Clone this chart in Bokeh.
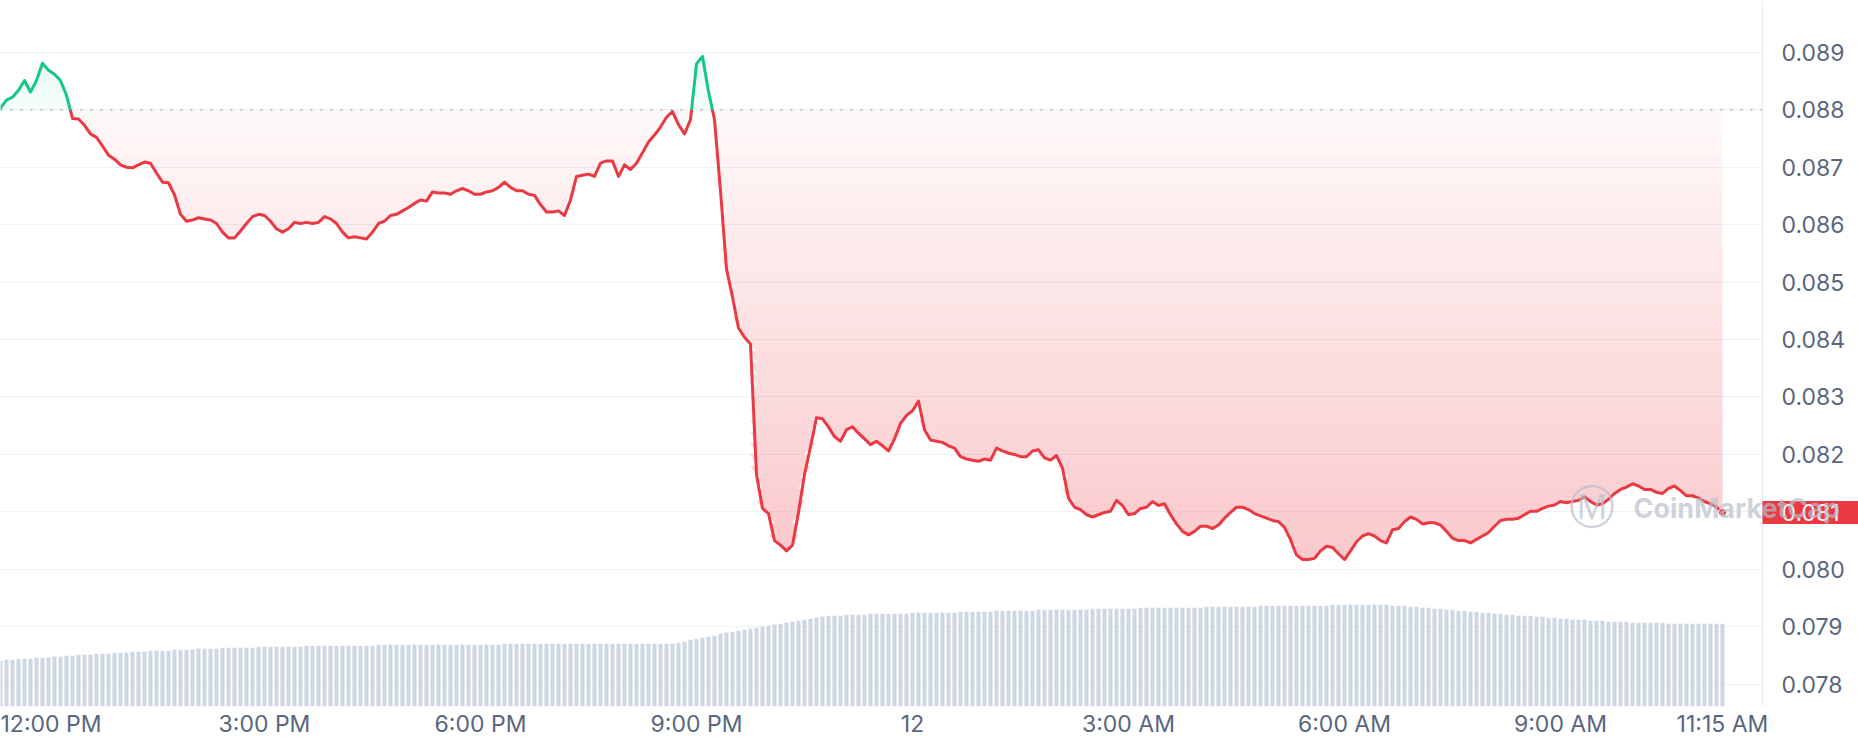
import numpy as np
from bokeh.plotting import figure
from bokeh.models import Range1d, FixedTicker, PrintfTickFormatter, Span, Label, BoxAnnotation
from bokeh.embed import file_html
from bokeh.resources import INLINE

# ---- data -------------------------------------------------------------
# 5-minute samples, minutes after 11:15 AM
minutes = list(range(0, 1445, 5))

prices = [
    0.08800, 0.08803, 0.08817, 0.08822, 0.08834, 0.08851, 0.08831, 0.08851, 0.08881, 0.08869, 0.08862, 0.08851,
    0.08825, 0.08785, 0.08784, 0.08773, 0.08758, 0.08752, 0.08737, 0.08721, 0.08714, 0.08704, 0.08700, 0.08699,
    0.08704, 0.08709, 0.08707, 0.08690, 0.08674, 0.08673, 0.08652, 0.08618, 0.08606, 0.08608, 0.08612, 0.08610,
    0.08608, 0.08602, 0.08587, 0.08577, 0.08577, 0.08589, 0.08602, 0.08614, 0.08618, 0.08616, 0.08606, 0.08593,
    0.08587, 0.08593, 0.08604, 0.08602, 0.08604, 0.08602, 0.08604, 0.08614, 0.08610, 0.08602, 0.08587, 0.08577,
    0.08579, 0.08577, 0.08575, 0.08587, 0.08602, 0.08606, 0.08616, 0.08618, 0.08624, 0.08630, 0.08637, 0.08643,
    0.08641, 0.08657, 0.08655, 0.08655, 0.08653, 0.08659, 0.08663, 0.08659, 0.08653, 0.08653, 0.08657, 0.08659,
    0.08665, 0.08674, 0.08665, 0.08659, 0.08659, 0.08653, 0.08651, 0.08635, 0.08622, 0.08622, 0.08624, 0.08616,
    0.08643, 0.08684, 0.08686, 0.08688, 0.08684, 0.08707, 0.08711, 0.08711, 0.08684, 0.08704, 0.08696, 0.08707,
    0.08725, 0.08744, 0.08756, 0.08770, 0.08787, 0.08797, 0.08774, 0.08758, 0.08783, 0.08880, 0.08893, 0.08832,
    0.08783, 0.08659, 0.08523, 0.08474, 0.08420, 0.08404, 0.08392, 0.08165, 0.08106, 0.08097, 0.08050, 0.08042,
    0.08032, 0.08042, 0.08099, 0.08165, 0.08213, 0.08264, 0.08262, 0.08248, 0.08231, 0.08223, 0.08243, 0.08248,
    0.08237, 0.08227, 0.08217, 0.08223, 0.08215, 0.08206, 0.08227, 0.08254, 0.08268, 0.08276, 0.08293, 0.08243,
    0.08225, 0.08223, 0.08221, 0.08215, 0.08211, 0.08196, 0.08192, 0.08190, 0.08188, 0.08192, 0.08190, 0.08211,
    0.08206, 0.08202, 0.08200, 0.08196, 0.08196, 0.08206, 0.08208, 0.08194, 0.08190, 0.08198, 0.08176, 0.08124,
    0.08108, 0.08104, 0.08095, 0.08091, 0.08095, 0.08099, 0.08101, 0.08120, 0.08111, 0.08095, 0.08097, 0.08106,
    0.08108, 0.08118, 0.08111, 0.08114, 0.08095, 0.08079, 0.08066, 0.08060, 0.08066, 0.08075, 0.08075, 0.08071,
    0.08077, 0.08089, 0.08099, 0.08108, 0.08108, 0.08104, 0.08097, 0.08093, 0.08089, 0.08085, 0.08083, 0.08073,
    0.08052, 0.08025, 0.08017, 0.08017, 0.08019, 0.08032, 0.08040, 0.08038, 0.08027, 0.08017, 0.08032, 0.08048,
    0.08058, 0.08062, 0.08058, 0.08050, 0.08046, 0.08069, 0.08071, 0.08083, 0.08091, 0.08087, 0.08079, 0.08081,
    0.08081, 0.08077, 0.08066, 0.08054, 0.08050, 0.08050, 0.08046, 0.08052, 0.08058, 0.08064, 0.08075, 0.08085,
    0.08087, 0.08087, 0.08089, 0.08095, 0.08101, 0.08101, 0.08106, 0.08110, 0.08112, 0.08118, 0.08116, 0.08118,
    0.08120, 0.08126, 0.08118, 0.08112, 0.08114, 0.08122, 0.08132, 0.08139, 0.08143, 0.08149, 0.08145, 0.08139,
    0.08139, 0.08134, 0.08132, 0.08141, 0.08145, 0.08137, 0.08128, 0.08128, 0.08124, 0.08118, 0.08114, 0.08108,
    0.08099,
]

# relative trading volume per 5-minute bar
volume = [
    55, 55, 56, 56, 57, 57, 57, 58, 58, 58, 59,
    59, 60, 60, 61, 61, 61, 62, 62, 62, 63,
    63, 63, 64, 64, 64, 65, 65, 65, 65, 66,
    66, 66, 66, 67, 67, 67, 67, 68, 68, 68,
    68, 68, 68, 69, 69, 69, 69, 69, 69, 69,
    69, 70, 70, 70, 70, 70, 70, 70, 70, 70,
    70, 70, 70, 71, 71, 71, 71, 71, 71, 71, 71, 71, 71, 71, 71, 71, 71, 71, 71, 71,
    71, 71, 71, 71, 72, 72, 72, 72, 72, 72, 72, 72, 72, 72, 72, 72, 72, 72, 72, 72,
    72, 72, 72, 72, 72, 72, 72, 72, 72, 72, 72, 72, 72, 73, 74,
    76, 77, 78, 79, 80, 82, 83, 84, 85, 86,
    87, 88, 89, 90, 91, 92, 93, 94, 95, 96,
    97, 98, 99, 100, 100, 100, 101, 101, 101, 101,
    102, 102, 102, 102, 102, 102, 102, 103, 103, 103, 103, 103, 103, 103, 103,
    104, 104, 104, 104, 104, 104, 105, 105, 105, 105, 105, 105, 105, 106, 106, 106, 106, 106, 106, 106,
    106, 106, 107, 107, 107, 107, 107, 107, 107, 107, 108, 108, 108, 108, 108, 108, 108, 108, 108, 108,
    108, 109, 109, 109, 109, 109, 109, 109, 109, 109, 110, 110, 110, 110, 110, 110, 110, 110, 110, 110,
    110, 110, 111, 111, 111, 111, 111, 111, 111, 111, 111, 111, 110, 110, 110,
    109, 109, 108, 108, 107, 107, 106, 106, 105, 105,
    104, 104, 103, 103, 102, 102, 101, 101, 100, 100,
    100, 99, 99, 98, 98, 97, 97, 96, 96, 96,
    95, 95, 95, 94, 94, 94, 94, 93, 93, 93,
    93, 93, 93, 92, 92, 92, 92, 92, 92, 92, 92, 92, 92,
]

x_tick_minutes = [45, 225, 405, 585, 765, 945, 1125, 1305, 1440]
x_tick_labels = ["12:00 PM", "3:00 PM", "6:00 PM", "9:00 PM", "12",
                 "3:00 AM", "6:00 AM", "9:00 AM", "11:15 AM"]
y_ticks = [0.078, 0.079, 0.080, 0.081, 0.082, 0.083, 0.084,
           0.085, 0.086, 0.087, 0.088, 0.089, 0.090]

RED = "#ea3943"
GREEN = "#16c784"
TEXT = "#58667e"
GRID = "#eff2f5"
FONT = "Inter"

# ---- figure -----------------------------------------------------------
W, H = 1858, 740
BOTTOM = 32                    # space for the time labels
FRAME_H = H - BOTTOM
X0, X1 = 5.0, 1553.33          # visible time window (minutes)
AXIS_X = 1473.33               # where the price scale sits
Y1 = 0.0899028
Y0 = Y1 - FRAME_H / 57600.0
VOL_TOP = 717                  # volume scale: bars rise from just below the frame

p = figure(width=W, height=H,
           x_range=Range1d(X0, X1), y_range=Range1d(Y0, Y1),
           y_axis_location="right",
           output_backend="svg", toolbar_location=None,
           min_border_left=0, min_border_top=0,
           min_border_right=0, min_border_bottom=BOTTOM)
p.outline_line_color = None
p.background_fill_color = "white"
p.border_fill_color = "white"
p.extra_y_ranges = {"vol": Range1d(VOL_TOP - FRAME_H, VOL_TOP)}

# grid
yticker = FixedTicker(ticks=y_ticks)
p.xgrid.grid_line_color = None
p.ygrid.ticker = yticker
p.ygrid.grid_line_color = GRID
p.ygrid.grid_line_width = 1

x = np.array(minutes, dtype=float)
y = np.array(prices, dtype=float)
base = y[0]

# opening price dotted line
p.add_layout(Span(location=base, dimension="width", line_color="#a6b0c3",
                  line_width=1.5, line_dash="2 8", level="underlay"))
# blank price-scale area (grid stops at the scale)
p.add_layout(BoxAnnotation(left=AXIS_X, fill_color="white", fill_alpha=1.0,
                           line_color=None, level="underlay"))

# volume bars
p.vbar(x=minutes, top=volume, width=3.4, bottom=0, y_range_name="vol",
       fill_color="#cfd6e4", line_color=None)

# split price line at the opening price
xs, ys = [x[0]], [y[0]]
for i in range(1, len(x)):
    y0, y1 = y[i - 1], y[i]
    if (y0 - base) * (y1 - base) < 0:
        f = (base - y0) / (y1 - y0)
        xs.append(x[i - 1] + f * (x[i] - x[i - 1]))
        ys.append(base)
    xs.append(x[i])
    ys.append(y[i])
xs = np.array(xs)
ys = np.array(ys)

# gradient fill below the opening price (red)
n_red = 40
levels = np.linspace(base, 0.0800, n_red + 1)
for i in range(n_red):
    top, bot = levels[i], levels[i + 1]
    a = 0.03 + 0.25 * (i + 0.5) / n_red
    p.varea(x=xs, y1=np.full_like(xs, top), y2=np.clip(ys, bot, top),
            fill_color=RED, fill_alpha=a)

# gradient fill above the opening price (green)
n_green = 10
glevels = np.linspace(base, 0.0890, n_green + 1)
for i in range(n_green):
    bot, top = glevels[i], glevels[i + 1]
    a = 0.03 + 0.10 * (i + 0.5) / n_green
    p.varea(x=xs, y1=np.full_like(xs, bot), y2=np.clip(ys, bot, top),
            fill_color=GREEN, fill_alpha=a)

red_line = np.where(ys <= base, ys, np.nan)
green_line = np.where(ys >= base, ys, np.nan)
p.line(xs, red_line, line_color=RED, line_width=3, line_join="round")
p.line(xs, green_line, line_color=GREEN, line_width=3, line_join="round")
p.scatter([minutes[-1]], [prices[-1]], size=8, fill_color=RED, line_color="white",
          line_width=1)

# ---- axes -------------------------------------------------------------
ax = p.yaxis[0]
ax.fixed_location = AXIS_X
ax.ticker = yticker
ax.formatter = PrintfTickFormatter(format="%.3f")
ax.major_tick_line_color = None
ax.minor_tick_line_color = None
ax.major_tick_out = 0
ax.major_tick_in = 0
ax.minor_tick_out = 0
ax.axis_line_color = "#e6e9ee"
ax.major_label_text_font = FONT
ax.major_label_text_font_size = "23px"
ax.major_label_text_color = TEXT
ax.major_label_standoff = 19

bx = p.xaxis[0]
bx.ticker = FixedTicker(ticks=x_tick_minutes)
bx.major_label_overrides = {m: lab for m, lab in zip(x_tick_minutes, x_tick_labels)}
bx.major_tick_line_color = None
bx.minor_tick_line_color = None
bx.major_tick_out = 0
bx.major_tick_in = 0
bx.minor_tick_out = 0
bx.axis_line_color = None
bx.major_label_text_font = FONT
bx.major_label_text_font_size = "23px"
bx.major_label_text_color = TEXT
bx.major_label_standoff = 3

# current price tag
p.add_layout(Label(x=1762, y=prices[-1], x_units="screen", y_units="data",
                   text=f"{prices[-1]:.3f}", text_font=FONT, text_font_size="23px",
                   text_color="white", text_align="left", text_baseline="middle",
                   background_fill_color=RED,
                   padding=dict(left=19, right=60, top=3, bottom=3)))

# watermark
p.add_layout(Label(x=1568, y=FRAME_H - 508, x_units="screen", y_units="screen",
                   text="\u24c2", text_font="DejaVu Sans", text_font_size="46px",
                   text_color="#b8c0cc", text_alpha=0.7,
                   text_align="left", text_baseline="middle"))
p.add_layout(Label(x=1633, y=FRAME_H - 510, x_units="screen", y_units="screen",
                   text="CoinMarketCap", text_font=FONT, text_font_size="27px",
                   text_font_style="bold",
                   text_color="#b8c0cc", text_alpha=0.7,
                   text_align="left", text_baseline="middle"))

open("out.html", "w").write(file_html(p, INLINE))
